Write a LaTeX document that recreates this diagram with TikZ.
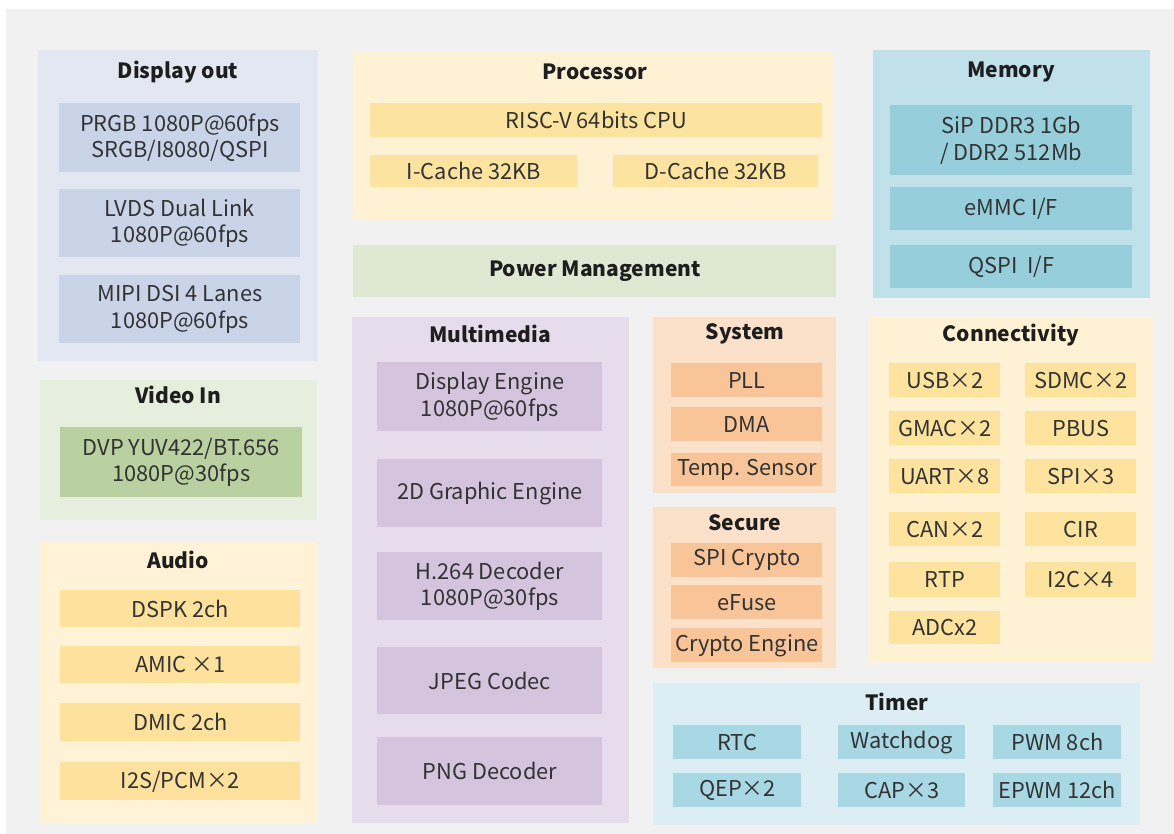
\documentclass[tikz,border=0pt]{standalone}
\usepackage{fontspec}
\setmainfont{Noto Sans CJK SC}
\definecolor{pagebg}{HTML}{F1F1F1}
\definecolor{txt}{HTML}{333333}
\definecolor{ttl}{HTML}{1E1E1E}
\definecolor{dispOut}{HTML}{E2E7F1}\definecolor{dispIn}{HTML}{C9D4E8}
\definecolor{procOut}{HTML}{FFF2D4}\definecolor{procIn}{HTML}{FDE3A0}
\definecolor{powOut}{HTML}{DFE8D3}
\definecolor{memOut}{HTML}{C0E1E9}\definecolor{memIn}{HTML}{96CEDB}
\definecolor{vidOut}{HTML}{E6EFDD}\definecolor{vidIn}{HTML}{B9D1A0}
\definecolor{audOut}{HTML}{FFF2D6}\definecolor{audIn}{HTML}{FDE19C}
\definecolor{mmOut}{HTML}{E6DCEC}\definecolor{mmIn}{HTML}{D4C4DE}
\definecolor{sysOut}{HTML}{FBE1CA}\definecolor{sysIn}{HTML}{F9C598}
\definecolor{tmOut}{HTML}{DCEDF3}\definecolor{tmIn}{HTML}{A9D8E5}
\definecolor{conOut}{HTML}{FFF1D3}\definecolor{conIn}{HTML}{FDE39E}
% a block given by its corner pixels: style, name, x1, y1, x2, y2, text
\newcommand\blk[7]{\node[#1, anchor=north west, inner sep=0pt,
  minimum width={(#5-#3)*0.5pt}, minimum height={(#6-#4)*0.5pt}] (#2) at (#3,#4) {#7};}
\tikzset{
  panel/.style={fill=#1},
  item/.style={fill=#1, align=center, text=txt,
    font=\fontsize{10.9}{13.2}\selectfont},
  ttlbox/.style={fill=#1, text=ttl, font=\bfseries\fontsize{10.5}{13}\selectfont},
  title/.style={text=ttl, inner sep=0pt, font=\bfseries\fontsize{10.5}{13}\selectfont},
}
\begin{document}
\begin{tikzpicture}[x=0.5pt,y=-0.5pt]
\useasboundingbox (0,0) rectangle (1174,834);
\fill[white] (0,0) rectangle (1174,834);
\fill[pagebg] (6,9) rectangle (1174,834);

% Display out
\blk{panel=dispOut}{dispout}{38}{50}{318}{361}{}
\node[title] (tdisp) at (178,72) {Display out};
\blk{item=dispIn}{prgb}{59}{103}{300}{172}{PRGB 1080P@60fps\\SRGB/I8080/QSPI}
\blk{item=dispIn}{lvds}{59}{189}{300}{257}{LVDS Dual Link\\1080P@60fps}
\blk{item=dispIn}{mipi}{59}{275}{300}{343}{MIPI DSI 4 Lanes\\1080P@60fps}

% Processor
\blk{panel=procOut}{proc}{353}{52}{833}{220}{}
\node[title] (tproc) at (595,72) {Processor};
\blk{item=procIn}{cpu}{370}{103}{822}{137}{RISC-V 64bits CPU}
\blk{item=procIn}{icache}{370}{155}{577}{187}{I-Cache 32KB}
\blk{item=procIn}{dcache}{613}{155}{818}{187}{D-Cache 32KB}

% Power management
\blk{ttlbox=powOut}{power}{353}{245}{836}{297}{Power Management}

% Memory
\blk{panel=memOut}{mem}{873}{50}{1150}{298}{}
\node[title] (tmem) at (1011,72) {Memory};
\blk{item=memIn}{ddr}{890}{105}{1132}{175}{SiP DDR3 1Gb\\/ DDR2 512Mb}
\blk{item=memIn}{emmc}{890}{187}{1132}{230}{eMMC I/F}
\blk{item=memIn}{qspi}{890}{245}{1132}{288}{QSPI~ I/F}

% Video In
\blk{panel=vidOut}{video}{40}{380}{317}{520}{}
\node[title] (tvid) at (178,395) {Video In};
\blk{item=vidIn}{dvp}{60}{427}{302}{497}{DVP YUV422/BT.656\\1080P@30fps}

% Audio
\blk{panel=audOut}{audio}{40}{542}{317}{823}{}
\node[title] (taud) at (178,560) {Audio};
\blk{item=audIn}{dspk}{60}{590}{300}{627}{DSPK 2ch}
\blk{item=audIn}{amic}{60}{646}{300}{683}{AMIC ×1}
\blk{item=audIn}{dmic}{60}{703}{300}{741}{DMIC 2ch}
\blk{item=audIn}{i2s}{60}{762}{300}{800}{I2S/PCM×2}

% Multimedia
\blk{panel=mmOut}{mm}{352}{317}{629}{823}{}
\node[title] (tmm) at (490,334) {Multimedia};
\blk{item=mmIn}{de}{377}{362}{602}{431}{Display Engine\\1080P@60fps}
\blk{item=mmIn}{g2d}{377}{459}{602}{527}{2D Graphic Engine}
\blk{item=mmIn}{h264}{377}{552}{602}{620}{H.264 Decoder\\1080P@30fps}
\blk{item=mmIn}{jpeg}{377}{647}{602}{714}{JPEG Codec}
\blk{item=mmIn}{png}{377}{737}{602}{805}{PNG Decoder}

% System
\blk{panel=sysOut}{sys}{653}{317}{836}{493}{}
\node[title] (tsys) at (745,334) {System};
\blk{item=sysIn}{pll}{671}{363}{822}{397}{PLL}
\blk{item=sysIn}{dma}{671}{407}{822}{441}{DMA}
\blk{item=sysIn}{temp}{671}{453}{822}{486}{Temp. Sensor}

% Secure
\blk{panel=sysOut}{sec}{653}{507}{836}{668}{}
\node[title] (tsec) at (745,523) {Secure};
\blk{item=sysIn}{spic}{671}{543}{822}{577}{SPI Crypto}
\blk{item=sysIn}{efuse}{671}{585}{822}{619}{eFuse}
\blk{item=sysIn}{crypto}{671}{628}{822}{662}{Crypto Engine}

% Connectivity
\blk{panel=conOut}{conn}{869}{317}{1153}{662}{}
\node[title] (tcon) at (1011,335) {Connectivity};
\blk{item=conIn}{usb}{889}{363}{1000}{397}{USB×2}
\blk{item=conIn}{sdmc}{1025}{363}{1136}{397}{SDMC×2}
\blk{item=conIn}{gmac}{889}{411}{1000}{445}{GMAC×2}
\blk{item=conIn}{pbus}{1025}{411}{1136}{445}{PBUS}
\blk{item=conIn}{uart}{889}{459}{1000}{493}{UART×8}
\blk{item=conIn}{spi}{1025}{459}{1136}{493}{SPI×3}
\blk{item=conIn}{can}{889}{512}{1000}{546}{CAN×2}
\blk{item=conIn}{cir}{1025}{512}{1136}{546}{CIR}
\blk{item=conIn}{rtp}{889}{562}{1000}{597}{RTP}
\blk{item=conIn}{i2c}{1025}{562}{1136}{597}{I2C×4}
\blk{item=conIn}{adc}{889}{611}{1000}{644}{ADCx2}

% Timer
\blk{panel=tmOut}{timer}{653}{683}{1140}{825}{}
\node[title] (ttim) at (897,702) {Timer};
\blk{item=tmIn}{rtc}{673}{725}{801}{759}{RTC}
\blk{item=tmIn}{wdog}{838}{725}{965}{759}{Watchdog}
\blk{item=tmIn}{pwm}{993}{725}{1121}{759}{PWM 8ch}
\blk{item=tmIn}{qep}{673}{773}{801}{807}{QEP×2}
\blk{item=tmIn}{cap}{838}{773}{965}{807}{CAP×3}
\blk{item=tmIn}{epwm}{993}{773}{1121}{807}{EPWM 12ch}
\end{tikzpicture}
\end{document}
